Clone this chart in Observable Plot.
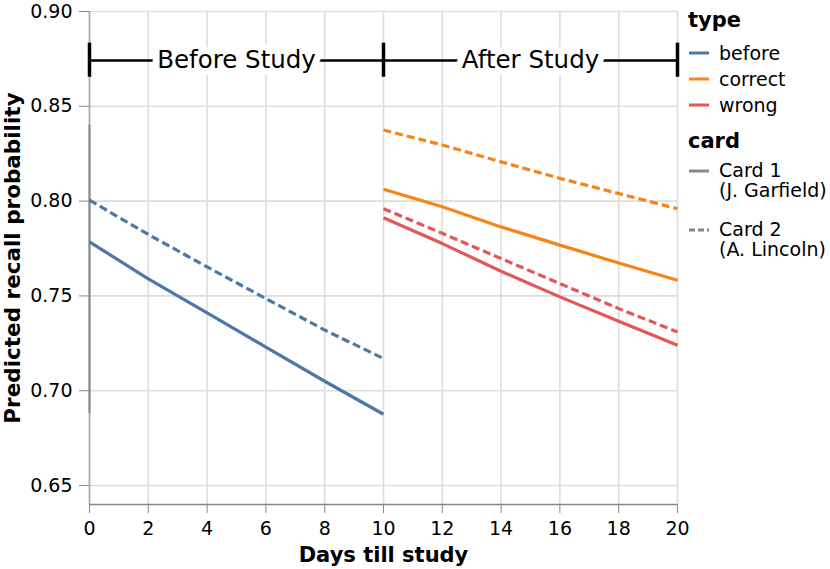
<!DOCTYPE html>
<html>
<head>
<meta charset="utf-8">
<script src="https://cdn.jsdelivr.net/npm/d3@7"></script>
<script src="https://cdn.jsdelivr.net/npm/@observablehq/plot@0.6"></script>
<style>
  html, body { margin: 0; padding: 0; background: white; }
  svg { display: block; }
</style>
</head>
<body>
<div id="chart"></div>
<script>
// ---------- data ----------
const types = ["before", "correct", "wrong"];
const typeColors = ["#4c78a8", "#f58518", "#e45756"];
const cards = ["Card 1", "Card 2"];
const cardLabels = [["Card 1", "(J. Garfield)"], ["Card 2", "(A. Lincoln)"]];

const daysBefore = [0, 2, 4, 6, 8, 10];
const daysAfter = [10, 12, 14, 16, 18, 20];

const beforeCard1 = [0.7785, 0.759, 0.741, 0.723, 0.705, 0.6876];
const beforeCard2 = [0.8005, 0.7824, 0.7653, 0.7486, 0.732, 0.717];
const correctCard1 = [0.8063, 0.797, 0.7864, 0.7768, 0.7674, 0.7583];
const correctCard2 = [0.8375, 0.8296, 0.8207, 0.812, 0.804, 0.796];
const wrongCard1 = [0.7912, 0.7776, 0.763, 0.7495, 0.7366, 0.724];
const wrongCard2 = [0.796, 0.783, 0.7697, 0.7565, 0.7433, 0.731];

const xTicks = [0, 2, 4, 6, 8, 10, 12, 14, 16, 18, 20];
const yTicks = [0.65, 0.70, 0.75, 0.80, 0.85, 0.90];

const phaseLabels = ["Before Study", "After Study"];
const phaseStart = [0, 10];
const phaseEnd = [10, 20];
const bracketY = 0.8741;
const capLow = 0.8653;
const capHigh = 0.8833;
const axisHighlight = [0.688, 0.84];

// ---------- build table ----------
const seriesList = [
  {type: "before", card: "Card 1", days: daysBefore, values: beforeCard1},
  {type: "before", card: "Card 2", days: daysBefore, values: beforeCard2},
  {type: "correct", card: "Card 1", days: daysAfter, values: correctCard1},
  {type: "correct", card: "Card 2", days: daysAfter, values: correctCard2},
  {type: "wrong", card: "Card 1", days: daysAfter, values: wrongCard1},
  {type: "wrong", card: "Card 2", days: daysAfter, values: wrongCard2}
];
const rows = seriesList.flatMap(s => s.values.map((v, i) => ({x: s.days[i], y: v, type: s.type, card: s.card, key: s.type + s.card})));
const phases = phaseLabels.map((label, i) => ({label, start: phaseStart[i], end: phaseEnd[i], mid: (phaseStart[i] + phaseEnd[i]) / 2}));
const capXs = [...new Set([...phaseStart, ...phaseEnd])];

const FONT = "DejaVu Sans";

const chart = Plot.plot({
  width: 830,
  height: 569,
  marginLeft: 89,
  marginRight: 153,
  marginTop: 11,
  marginBottom: 65,
  style: {fontFamily: FONT, fontSize: "19px", background: "white", overflow: "visible"},
  x: {domain: [0, 20]},
  y: {domain: [0.64, 0.90]},
  color: {domain: types, range: typeColors},
  marks: [
    Plot.gridX(xTicks, {stroke: "#dddddd", strokeOpacity: 1, strokeWidth: 1.6}),
    Plot.gridY(yTicks, {stroke: "#dddddd", strokeOpacity: 1, strokeWidth: 1.6}),
    Plot.ruleY([0.64], {stroke: "#888888", strokeWidth: 1.6}),
    Plot.ruleX([0], {stroke: "#aaaaaa", strokeWidth: 1.6}),
    Plot.ruleX([0], {y1: axisHighlight[0], y2: axisHighlight[1], stroke: "#888888", strokeWidth: 2}),
    Plot.axisX(xTicks, {tickSize: 9, tickPadding: 8, stroke: "#888888", fill: "black", fontSize: 19, label: null}),
    Plot.axisY(yTicks, {tickSize: 10, tickPadding: 7, stroke: "#888888", fill: "black", fontSize: 19, tickFormat: d3.format(".2f"), label: null}),
    Plot.line(rows.filter(d => d.card === "Card 1"), {x: "x", y: "y", z: "key", stroke: "type", strokeWidth: 3.2, strokeLinecap: "butt"}),
    Plot.line(rows.filter(d => d.card === "Card 2"), {x: "x", y: "y", z: "key", stroke: "type", strokeWidth: 3.2, strokeLinecap: "butt", strokeDasharray: "8,4"}),
    Plot.ruleY(phases, {x1: "start", x2: "end", y: () => bracketY, stroke: "black", strokeWidth: 2.5}),
    Plot.ruleX(capXs, {y1: capLow, y2: capHigh, stroke: "black", strokeWidth: 3.5}),
    Plot.text(phases, {x: "mid", y: () => bracketY, text: "label", fontSize: 24.5, fill: "black", stroke: "white", strokeWidth: 14}),
    Plot.text(["Days till study"], {frameAnchor: "bottom", dy: 51, lineAnchor: "middle", textAnchor: "middle", text: d => d, fontWeight: "bold", fontSize: 21, fill: "black"}),
    Plot.text(["Predicted recall probability"], {frameAnchor: "left", dx: -76, rotate: -90, textAnchor: "middle", lineAnchor: "middle", text: d => d, fontWeight: "bold", fontSize: 21.5, fill: "black"})
  ]
});

// ---------- legend (drawn into the same svg) ----------
const svg = d3.select(chart);
const lg = svg.append("g").attr("font-family", FONT).attr("fill", "black").attr("text-anchor", "start");
lg.append("text").attr("x", 688).attr("y", 27).attr("font-size", 21).attr("font-weight", "bold").text("type");
types.forEach((t, i) => {
  const yy = 53 + i * 26;
  lg.append("line").attr("x1", 689).attr("x2", 709).attr("y1", yy).attr("y2", yy)
    .attr("stroke", typeColors[i]).attr("stroke-width", 3);
  lg.append("text").attr("x", 719).attr("y", yy + 7).attr("font-size", 19).text(t);
});
lg.append("text").attr("x", 688).attr("y", 148).attr("font-size", 21).attr("font-weight", "bold").text("card");
cardLabels.forEach((lines, i) => {
  const yy = 171 + i * 59;
  lg.append("line").attr("x1", 689).attr("x2", 709).attr("y1", yy).attr("y2", yy)
    .attr("stroke", "#888888").attr("stroke-width", 3)
    .attr("stroke-dasharray", i === 1 ? "6,3" : null);
  lines.forEach((s, j) => {
    lg.append("text").attr("x", 719).attr("y", yy + 6 + j * 20).attr("font-size", 19).text(s);
  });
});

document.getElementById("chart").appendChild(chart);
</script>
</body>
</html>
